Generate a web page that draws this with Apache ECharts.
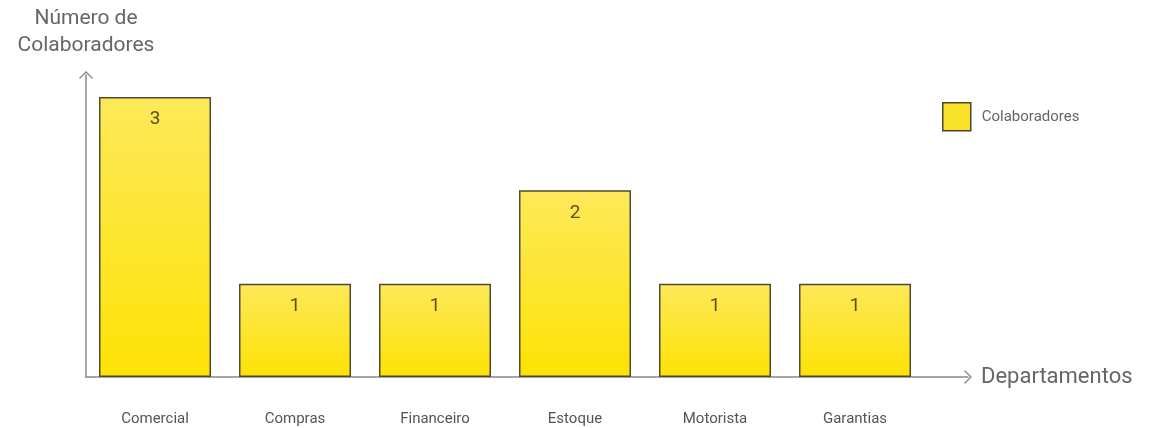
<!DOCTYPE html>
<html><head><meta charset="utf-8">
<script src="https://cdn.jsdelivr.net/npm/echarts@6/dist/echarts.min.js"></script>
<style>html,body{margin:0;padding:0;background:#fff}#c{width:1152px;height:428px}</style>
</head><body><div id="c"></div>
<script>
const categories = ['Comercial','Compras','Financeiro','Estoque','Motorista','Garantias'];
const values = [3,1,1,2,1,1];
const seriesName = 'Colaboradores';
const yTitle = 'Número de\nColaboradores';
const xTitle = 'Departamentos';

const chev = 'path://M0,10 L10,0 L20,10 L18.6,11.4 L10,2.8 L1.4,11.4 Z';
const chart = echarts.init(document.getElementById('c'));
const font = 'Roboto, "Noto Sans", sans-serif';
chart.setOption({
  animation:false,
  textStyle:{fontFamily:font},
  legend:{left:937, top:97, itemWidth:28, itemHeight:28, itemGap:10, icon:'rect',
    textStyle:{fontSize:15, color:'#666', padding:[0,0,0,6]},
    data:[{name:seriesName, itemStyle:{color:'#fae22a', borderColor:'#4a4530', borderWidth:1.5}}]},
  grid:[
    {left:85, width:840, top:97, bottom:51},
    {left:86, right:184, top:75, bottom:51}
  ],
  xAxis:[
    {gridIndex:0, type:'category', data:categories, axisLine:{show:false}, axisTick:{show:false},
      axisLabel:{margin:35, fontSize:15, color:'#555'}},
    {gridIndex:1, type:'value', min:0, max:1, splitLine:{show:false}, axisLabel:{show:false}, axisTick:{show:false},
      axisLine:{show:true, symbol:['none', chev], symbolSize:[14,8], symbolOffset:[0,0], lineStyle:{color:'#888', width:1.5}},
      name:xTitle, nameLocation:'end', nameGap:13, nameTextStyle:{fontSize:22, color:'#666', align:'left', verticalAlign:'middle'}}
  ],
  yAxis:[
    {gridIndex:0, type:'value', min:0, max:3, show:false},
    {gridIndex:1, type:'value', min:0, max:1, splitLine:{show:false}, axisLabel:{show:false}, axisTick:{show:false},
      axisLine:{show:true, symbol:['none', chev], symbolSize:[14,8], lineStyle:{color:'#888', width:1.5}},
      name:yTitle, nameLocation:'end', nameGap:16, nameTextStyle:{fontSize:21, color:'#666', lineHeight:27, align:'center'}}
  ],
  series:[{
    type:'bar', name:seriesName, xAxisIndex:0, yAxisIndex:0, data:values, barWidth:112,
    itemStyle:{
      color:new echarts.graphic.LinearGradient(0,0,0,1,[{offset:0,color:'#fde95a'},{offset:1,color:'#fde204'}]),
      borderColor:'#4f4a35', borderWidth:1.5
    },
    label:{show:true, position:'insideTop', distance:13, fontSize:19, color:'#5b5020'}
  }]
});
</script></body></html>
